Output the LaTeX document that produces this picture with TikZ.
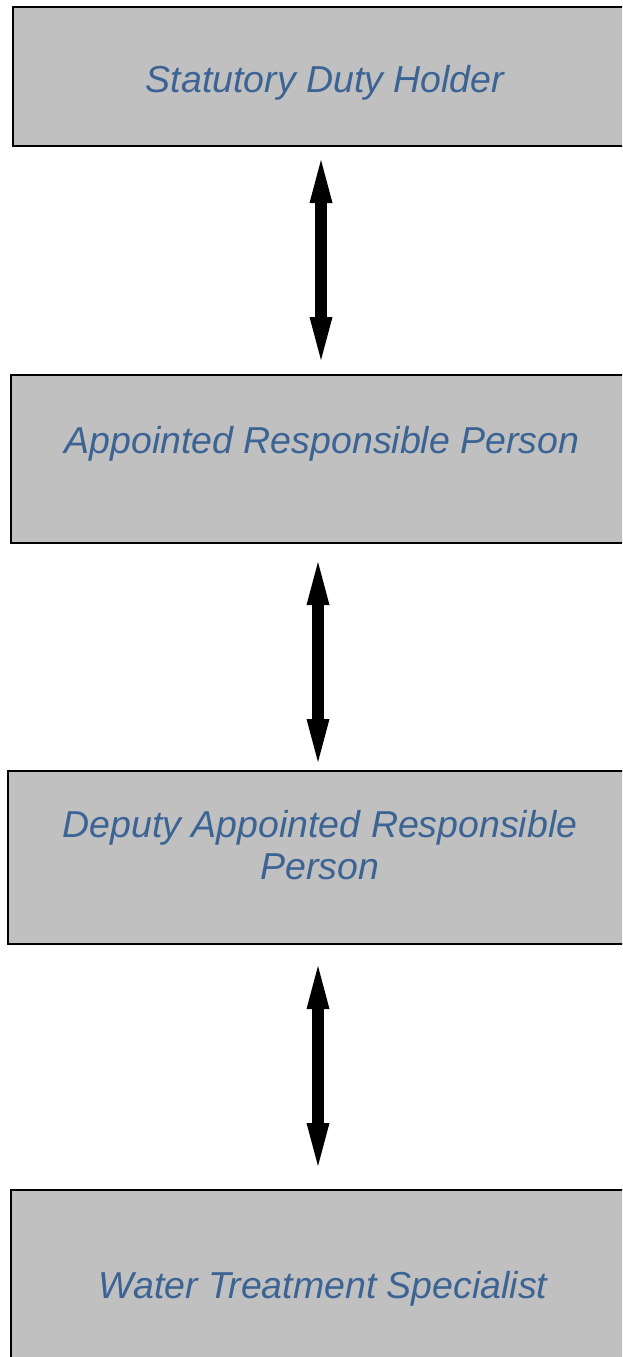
\documentclass[tikz,border=0pt]{standalone}
\usepackage{fontspec}
\setmainfont{Liberation Sans}
\usetikzlibrary{arrows.meta}
\definecolor{boxfill}{RGB}{192,192,192}
\definecolor{txtblue}{RGB}{59,99,148}
\begin{document}
\begin{tikzpicture}[x=1pt,y=-1pt,
  rolebox/.style={draw=black,line width=2pt,fill=boxfill},
  roletext/.style={text=txtblue,font=\fontsize{37.5}{42}\selectfont\itshape,align=center,inner sep=0pt},
  link/.style={line width=12pt,{Triangle[width=23pt,length=43pt,line width=0pt]}-{Triangle[width=23pt,length=43pt,line width=0pt]}}]
\useasboundingbox (0,0) rectangle (622,1357);
\clip (0,0) rectangle (622,1357);
\draw[rolebox] (13,7) rectangle (637,146);
\draw[rolebox] (11,375) rectangle (634,543);
\draw[rolebox] (8,771) rectangle (632,944);
\draw[rolebox] (11,1190) rectangle (635,1420);
\node[roletext,anchor=base] (t1) at (325,92) {Statutory Duty Holder};
\node[roletext,anchor=base] (t2) at (322,453) {Appointed Responsible Person};
\node[roletext,anchor=base] (t3) at (320,879) {Deputy Appointed Responsible\\Person};
\node[roletext,anchor=base] (t4) at (323,1298) {Water Treatment Specialist};
\coordinate (a1) at (321,160); \coordinate (b1) at (321,360);
\coordinate (a2) at (318,562); \coordinate (b2) at (318,762);
\coordinate (a3) at (318,966); \coordinate (b3) at (318,1166);
\draw[link] (a1) -- (b1);
\draw[link] (a2) -- (b2);
\draw[link] (a3) -- (b3);
\end{tikzpicture}
\end{document}
